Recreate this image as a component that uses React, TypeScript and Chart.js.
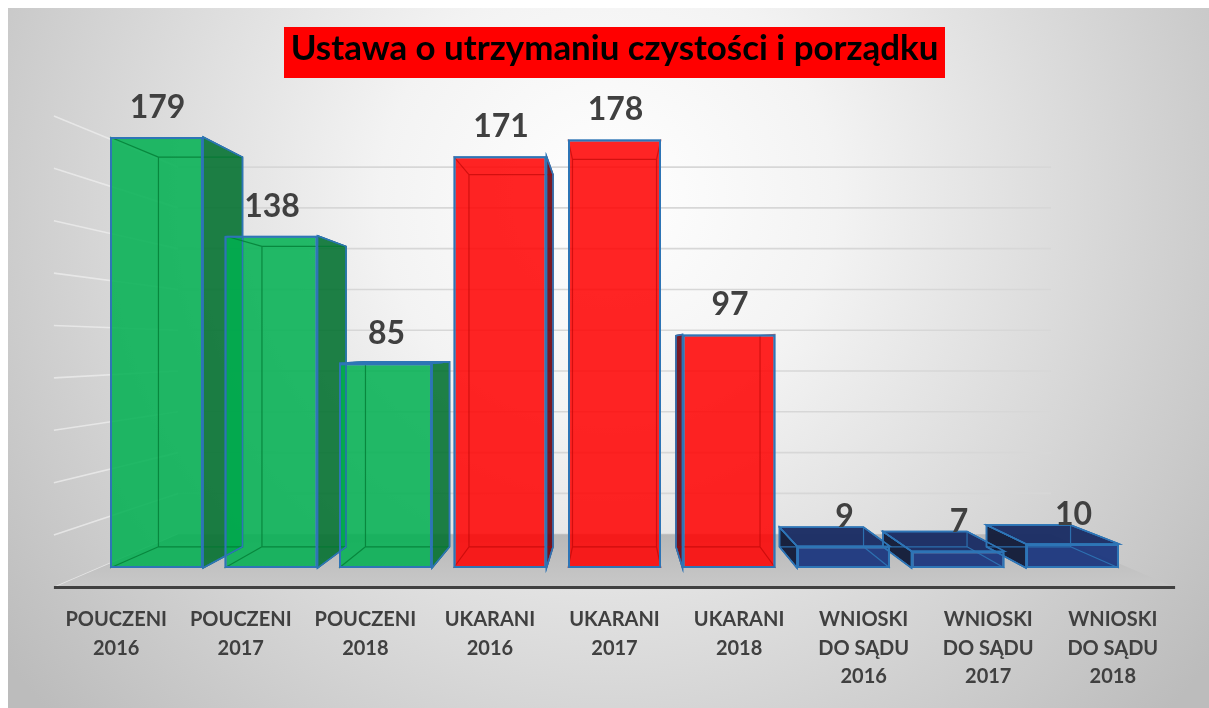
import React, { useEffect, useRef } from 'react';
import { Chart, registerables } from 'chart.js';

Chart.register(...registerables);

// ---- data ----
const categories: string[][] = [
  ['POUCZENI', '2016'],
  ['POUCZENI', '2017'],
  ['POUCZENI', '2018'],
  ['UKARANI', '2016'],
  ['UKARANI', '2017'],
  ['UKARANI', '2018'],
  ['WNIOSKI', 'DO SĄDU', '2016'],
  ['WNIOSKI', 'DO SĄDU', '2017'],
  ['WNIOSKI', 'DO SĄDU', '2018'],
];
const values: number[] = [179, 138, 85, 171, 178, 97, 9, 7, 10];
const groups: string[] = ['green', 'green', 'green', 'red', 'red', 'red', 'blue', 'blue', 'blue'];
const yTicks: number[] = [0, 20, 40, 60, 80, 100, 120, 140, 160, 180];
const titleText = 'Ustawa o utrzymaniu czystości i porządku';

// ---- styling ----
const palette: Record<string, { front: string; side: string; top: string; inner: string }> = {
  green: { front: 'rgba(0,176,80,0.86)', side: 'rgba(0,112,45,0.88)', top: 'rgba(0,140,60,0.88)', inner: 'rgba(0,120,50,0.75)' },
  red: { front: 'rgba(255,0,0,0.86)', side: 'rgba(105,0,12,0.9)', top: 'rgba(190,0,0,0.88)', inner: 'rgba(175,0,0,0.55)' },
  blue: { front: 'rgba(32,58,128,0.97)', side: 'rgba(20,29,58,0.97)', top: 'rgba(27,45,100,0.97)', inner: 'rgba(46,117,182,0.9)' },
};
const EDGE = '#2e75b6';
const DEPTH = 0.904; // back face of bars
const WALL = 0.847; // back wall plane
const FLOOR = 1.088; // front edge of floor
const VY_FRAC = 0.49;
const FONT = 'Lato, "Open Sans", "DejaVu Sans", sans-serif';

function scene(chart: any) {
  const a = chart.chartArea;
  const vx = (a.left + a.right) / 2;
  const vy = a.top + (a.bottom - a.top) * VY_FRAC;
  const pr = (x: number, y: number, s: number): [number, number] => [vx + (x - vx) * s, vy + (y - vy) * s];
  return { a, vx, vy, pr };
}

function barGeom(chart: any) {
  const { vx, vy, pr } = scene(chart);
  const meta = chart.getDatasetMeta(0);
  return meta.data.map((el: any, i: number) => {
    const p = el.getProps(['x', 'y', 'base', 'width'], true);
    const x1 = p.x - p.width / 2;
    const x2 = p.x + p.width / 2;
    const yt = p.y;
    const yb = p.base;
    const [bx1, byt] = pr(x1, yt, DEPTH);
    const [bx2, byb] = pr(x2, yb, DEPTH);
    const quads: { pts: [number, number][]; fill: string }[] = [];
    const c = palette[groups[i]];
    if (p.x < vx - 2) {
      quads.push({ pts: [[x2, yt], [bx2, byt], [bx2, byb], [x2, yb]], fill: c.side });
    } else if (p.x > vx + 2) {
      quads.push({ pts: [[x1, yt], [bx1, byt], [bx1, byb], [x1, yb]], fill: c.side });
    }
    if (yt > vy) {
      quads.push({ pts: [[x1, yt], [x2, yt], [bx2, byt], [bx1, byt]], fill: c.top });
    }
    return { x: p.x, x1, x2, yt, yb, bx1, bx2, byt, byb, quads, c };
  });
}

function poly(ctx: CanvasRenderingContext2D, pts: [number, number][]) {
  ctx.beginPath();
  ctx.moveTo(pts[0][0], pts[0][1]);
  for (let i = 1; i < pts.length; i++) ctx.lineTo(pts[i][0], pts[i][1]);
  ctx.closePath();
}

const scenePlugin = {
  id: 'scene3d',
  beforeDraw(chart: any) {
    const { ctx, width, height } = chart;
    ctx.save();
    const g = ctx.createRadialGradient(600, 190, 0, 600, 190, 760);
    g.addColorStop(0, '#ffffff');
    g.addColorStop(0.3, '#f3f3f3');
    g.addColorStop(1, '#bcbcbc');
    ctx.fillStyle = g;
    ctx.fillRect(0, 0, width, height);
    ctx.restore();
  },
  beforeDatasetsDraw(chart: any) {
    const { ctx } = chart;
    const { a, pr } = scene(chart);
    const ys = chart.scales.y;
    ctx.save();
    // gridlines on back wall and left wall
    ctx.lineWidth = 1.6;
    for (const v of yTicks) {
      const py = ys.getPixelForValue(v);
      const [lx, ly] = pr(a.left, py, WALL);
      const [rx, ry] = pr(a.right, py, WALL);
      const [fx, fy] = pr(a.left, py, FLOOR);
      ctx.strokeStyle = '#d7d7d7';
      ctx.beginPath();
      ctx.moveTo(lx, ly);
      ctx.lineTo(rx, ry);
      ctx.stroke();
      ctx.strokeStyle = 'rgba(238,238,238,0.75)';
      ctx.beginPath();
      ctx.moveTo(fx, fy);
      ctx.lineTo(lx, ly);
      ctx.stroke();
    }
    // floor
    const y0 = ys.getPixelForValue(0);
    const fl = pr(a.left, y0, FLOOR);
    const fr = pr(a.right, y0, FLOOR);
    const bl = pr(a.left, y0, WALL);
    const br = pr(a.right, y0, WALL);
    const fg = ctx.createLinearGradient(0, bl[1], 0, fl[1]);
    fg.addColorStop(0, '#b8b8b8');
    fg.addColorStop(1, '#c8c8c8');
    ctx.fillStyle = fg;
    poly(ctx, [fl, fr, br, bl]);
    ctx.fill();
    ctx.strokeStyle = '#404040';
    ctx.lineWidth = 3;
    ctx.beginPath();
    ctx.moveTo(fl[0], fl[1]);
    ctx.lineTo(fr[0], fr[1]);
    ctx.stroke();
    // side and top faces of bars
    const bars = barGeom(chart);
    ctx.lineWidth = 1.5;
    ctx.strokeStyle = EDGE;
    for (const b of bars) {
      for (const q of b.quads) {
        poly(ctx, q.pts);
        ctx.fillStyle = q.fill;
        ctx.fill();
        ctx.stroke();
      }
    }
    ctx.restore();
  },
  afterDatasetsDraw(chart: any) {
    const { ctx } = chart;
    const { a, vx } = scene(chart);
    const bars = barGeom(chart);
    ctx.save();
    for (const b of bars) {
      // hidden (back) edges seen through the transparent bar
      ctx.strokeStyle = b.c.inner;
      ctx.lineWidth = 1.2;
      ctx.beginPath();
      ctx.rect(b.bx1, b.byt, b.bx2 - b.bx1, b.byb - b.byt);
      ctx.moveTo(b.x1, b.yt); ctx.lineTo(b.bx1, b.byt);
      ctx.moveTo(b.x2, b.yt); ctx.lineTo(b.bx2, b.byt);
      ctx.moveTo(b.x1, b.yb); ctx.lineTo(b.bx1, b.byb);
      ctx.moveTo(b.x2, b.yb); ctx.lineTo(b.bx2, b.byb);
      ctx.stroke();
      // outlines again
      ctx.strokeStyle = EDGE;
      ctx.lineWidth = 1.5;
      for (const q of b.quads) {
        poly(ctx, q.pts);
        ctx.stroke();
      }
      ctx.lineWidth = 2;
      ctx.strokeRect(b.x1 + 1, b.yt + 1, b.x2 - b.x1 - 2, b.yb - b.yt - 2);
    }
    // value labels
    ctx.fillStyle = '#404040';
    ctx.textAlign = 'center';
    ctx.textBaseline = 'alphabetic';
    ctx.font = `bold 32px ${FONT}`;
    bars.forEach((b: any, i: number) => {
      ctx.fillText(String(values[i]), b.x + 1, b.yt - 19);
    });
    // category labels at the front edge of the floor
    ctx.font = `bold 20px ${FONT}`;
    const base = 618;
    bars.forEach((b: any, i: number) => {
      const lx = vx + (b.x - vx) * FLOOR;
      categories[i].forEach((line, k) => {
        ctx.fillText(line, lx, base + k * 28.5);
      });
    });
    // title box
    const cx = (a.left + a.right) / 2;
    ctx.fillStyle = '#ff0000';
    ctx.fillRect(cx - 330.5, 19, 661, 51);
    ctx.font = `bold 32px ${FONT}`;
    const w = ctx.measureText(titleText).width;
    const size = 32 * 648 / w;
    ctx.font = `bold ${size.toFixed(2)}px ${FONT}`;
    ctx.fillStyle = '#000000';
    ctx.fillText(titleText, cx, 52);
    ctx.restore();
  },
};

export default function App() {
  const ref = useRef<HTMLCanvasElement | null>(null);
  useEffect(() => {
    if (!ref.current) return;
    const chart = new Chart(ref.current, {
      type: 'bar',
      data: {
        labels: categories.map((c) => c.join(' ')),
        datasets: [
          {
            data: values,
            backgroundColor: groups.map((g) => palette[g].front),
            borderColor: EDGE,
            borderWidth: 2,
            barPercentage: 0.812,
            categoryPercentage: 1,
          },
        ],
      },
      options: {
        responsive: false,
        animation: false,
        devicePixelRatio: 1,
        layout: { padding: { left: 91.25, right: 79.25, top: 126.6, bottom: 140 } },
        plugins: {
          legend: { display: false },
          title: { display: false },
          tooltip: { enabled: false },
        },
        scales: {
          x: { display: false },
          y: { display: false, min: 0, max: 180, ticks: { stepSize: 20 } },
        },
      },
      plugins: [scenePlugin],
    });
    return () => chart.destroy();
  }, []);
  return (
    <div style={{ position: 'fixed', left: 8, top: 8, width: 1201, height: 700 }}>
      <canvas ref={ref} width={1201} height={700} style={{ display: 'block', width: 1201, height: 700 }} />
    </div>
  );
}
